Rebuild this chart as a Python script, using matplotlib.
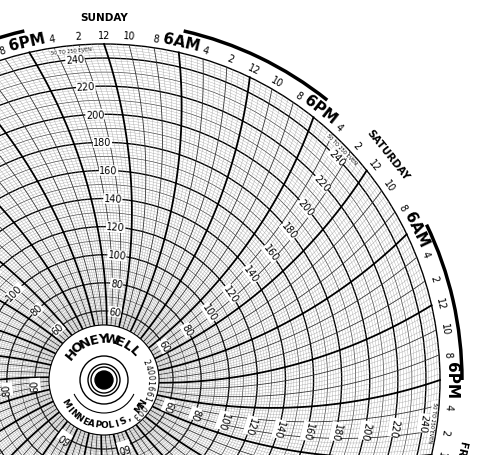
import numpy as np
import matplotlib.pyplot as plt
from matplotlib.patches import Circle, Arc

# chart data
days = ["SUNDAY", "SATURDAY", "FRIDAY", "THURSDAY", "WEDNESDAY", "TUESDAY", "MONDAY"]
hour_labels = ["12", "10", "8", "6AM", "4", "2", "12", "10", "8", "6PM", "4", "2"]
value_labels = [60, 80, 100, 120, 140, 160, 180, 200, 220, 240]
vmin, vmax = 50, 250

# geometry (pixel units, centre of chart at origin)
CX, CY = 104, 381
R_HUB, R_OUT = 55, 336
R_ARM = 520
STEP = 360 / 84  # one 2-hour division


def vr(v):
    return R_HUB + (v - vmin) * (R_OUT - R_HUB) / (vmax - vmin)


def curve_angle(theta0, r):
    return theta0 + np.degrees(np.arcsin(r / (2 * R_ARM)) - np.arcsin(R_OUT / (2 * R_ARM)))


def pol(r, a):
    return r * np.cos(np.radians(a)), r * np.sin(np.radians(a))


fig = plt.figure(figsize=(4.8, 4.56), dpi=100)
ax = fig.add_axes([0, 0, 1, 1])
ax.set_xlim(-CX, 480 - CX)
ax.set_ylim(-(456 - CY), CY)
ax.axis("off")

# value circles
for v in range(vmin, vmax + 1, 2):
    if v % 20 == 0 or v == vmax:
        lw, c = 1.0, "black"
    elif v % 10 == 0:
        lw, c = 0.5, "#444444"
    else:
        lw, c = 0.25, "#999999"
    ax.add_patch(Circle((0, 0), vr(v), fill=False, lw=lw, ec=c))

# time lines (curved arcs)
rr = np.linspace(R_HUB, R_OUT, 120)
for k in range(84 * 4):
    theta0 = 90 - k * STEP / 4
    a = curve_angle(theta0, rr)
    x, y = pol(rr, a)
    if k % 12 == 0:
        lw, c = 1.3, "black"
    elif k % 4 == 0:
        lw, c = 0.6, "#333333"
    else:
        lw, c = 0.25, "#999999"
    ax.plot(x, y, lw=lw, color=c)

# hour labels and day names
for k in range(84):
    a = 90 - k * STEP
    lab = hour_labels[k % 12]
    big = "M" in lab
    x, y = pol(347 if big else 345, a)
    ax.text(x, y, lab, rotation=a - 90, ha="center", va="center",
            fontsize=11 if big else 7, fontweight="bold" if big else "normal")
    if k % 12 == 0:
        x, y = pol(363, a)
        ax.text(x, y, days[k // 12], rotation=a - 90, ha="center", va="center",
                fontsize=7.5, fontweight="bold")

# thick daytime arcs (6AM to 6PM)
for d in range(7):
    a_start = 90 - (d * 12 + 9) * STEP
    ax.add_patch(Arc((0, 0), 2 * 358, 2 * 358, theta1=a_start, theta2=a_start + 6 * STEP,
                     lw=2.5, color="black"))

# value labels along each day's curve
for d in range(7):
    theta0 = 90 - d * 12 * STEP + 1.4 * STEP
    for v in value_labels:
        r = vr(v)
        a = curve_angle(theta0, r)
        x, y = pol(r, a)
        ax.text(x, y, str(v), rotation=a - 90, ha="center", va="center", fontsize=7,
                bbox=dict(fc="white", ec="none", pad=0.3))
    a = curve_angle(theta0, 331)
    x, y = pol(331, a)
    ax.text(x, y, "50 TO 250 EVEN", rotation=a - 90, ha="center", va="center", fontsize=3.6,
            bbox=dict(fc="white", ec="none", pad=0.1))

# hub
ax.add_patch(Circle((0, 0), R_HUB, fc="white", ec="black", lw=0.8, zorder=5))
for r, lw in [(24, 1.0), (16, 1.0), (13, 1.0)]:
    ax.add_patch(Circle((0, 0), r, fill=False, ec="black", lw=lw, zorder=6))
ax.add_patch(Circle((0, 0), 9, fc="black", ec="black", zorder=6))
ax.add_patch(Arc((0, 0), 66, 66, theta1=205, theta2=335, lw=0.8, color="black", zorder=6))


def arc_text(s, r, center, sp, fs, top=True, weight="normal"):
    n = len(s)
    for i, ch in enumerate(s):
        if top:
            a = center + (n - 1) / 2 * sp - i * sp
            rot = a - 90
        else:
            a = center - (n - 1) / 2 * sp + i * sp
            rot = a + 90
        x, y = pol(r, a)
        ax.text(x, y, ch, rotation=rot, ha="center", va="center", fontsize=fs,
                fontweight=weight, zorder=7)


arc_text("HONEYWELL", 42, 92, 12, 9.5, top=True, weight="bold")
arc_text("MINNEAPOLIS, MN", 45, -90, 8.5, 6.5, top=False, weight="bold")
arc_text("24001661-003", 46, -12, 6.5, 5.5, top=True)

fig.savefig("out.png", dpi=100)
